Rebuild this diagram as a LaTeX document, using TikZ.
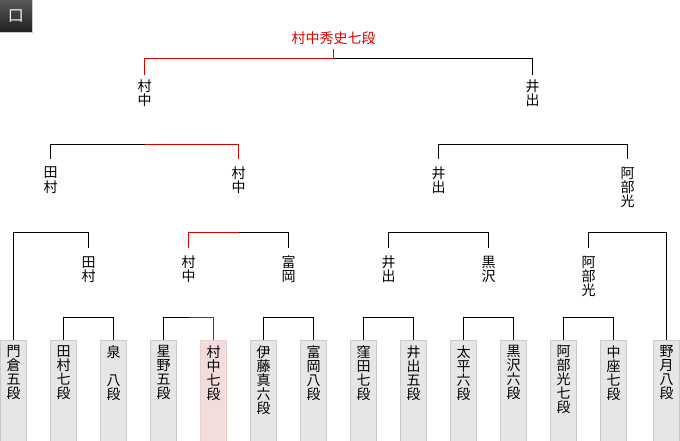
\documentclass[tikz,border=0pt]{standalone}
\usepackage{fontspec}
\setmainfont{Noto Sans CJK JP}
\usetikzlibrary{calc}
\definecolor{winred}{HTML}{DD0000}
\definecolor{boxgray}{HTML}{E6E6E6}
\definecolor{boxline}{HTML}{CACACA}
\definecolor{pinkfill}{HTML}{F3DCDC}
\definecolor{pinkline}{HTML}{EDCFCF}
\definecolor{icontop}{HTML}{5A5A5A}
\definecolor{iconbot}{HTML}{1E1E1E}
\begin{document}
\begin{tikzpicture}[x=1pt,y=-1pt,
  conn/.style={line width=1pt, black},
  win/.style={line width=1pt, winred},
  pbox/.style={draw=boxline, fill=boxgray, line width=1pt, minimum width=26pt, minimum height=102pt, anchor=north, inner sep=0pt},
  wbox/.style={pbox, draw=pinkline, fill=pinkfill},
  vtext/.style={anchor=north, inner sep=0pt, align=center, font=\fontsize{14}{14}\selectfont},
  lbl/.style={vtext},
  champ/.style={anchor=north, inner sep=0pt, text=winred, font=\fontsize{14}{14}\selectfont},
  icon/.style={minimum size=33pt, inner sep=0pt, top color=icontop, bottom color=iconbot, draw=gray!40, line width=1pt, text=gray!10, font=\fontsize{16}{16}\selectfont},
]
\useasboundingbox (0,0) rectangle (680,440);
% icon
\node[icon] (ic) at (16,16) {口};
\begin{scope}[xshift=0.5pt]
% level rows
\coordinate (r0) at (0,58.5);
\coordinate (r1) at (0,144.5);
\coordinate (r2) at (0,232.5);
\coordinate (r3) at (0,317.5);
% boxes
\node[pbox] (b1) at (13,339.5) {};
\node[pbox] (b2) at (63,339.5) {};
\node[pbox] (b3) at (113,339.5) {};
\node[pbox] (b4) at (163,339.5) {};
\node[wbox] (b5) at (213,339.5) {};
\node[pbox] (b6) at (263,339.5) {};
\node[pbox] (b7) at (313,339.5) {};
\node[pbox] (b8) at (363,339.5) {};
\node[pbox] (b9) at (413,339.5) {};
\node[pbox] (b10) at (463,339.5) {};
\node[pbox] (b11) at (513,339.5) {};
\node[pbox] (b12) at (563,339.5) {};
\node[pbox] (b13) at (613,339.5) {};
\node[pbox] (b14) at (666,339.5) {};
% box texts
\node[vtext] (t1) at ($(b1.north)+(0,6)$) {門\\倉\\五\\段};
\node[vtext] (t2) at ($(b2.north)+(0,6)$) {田\\村\\七\\段};
\node[vtext] (t3) at ($(b3.north)+(0,6)$) {泉\\　\\八\\段};
\node[vtext] (t4) at ($(b4.north)+(0,6)$) {星\\野\\五\\段};
\node[vtext] (t5) at ($(b5.north)+(0,6)$) {村\\中\\七\\段};
\node[vtext] (t6) at ($(b6.north)+(0,6)$) {伊\\藤\\真\\六\\段};
\node[vtext] (t7) at ($(b7.north)+(0,6)$) {富\\岡\\八\\段};
\node[vtext] (t8) at ($(b8.north)+(0,6)$) {窪\\田\\七\\段};
\node[vtext] (t9) at ($(b9.north)+(0,6)$) {井\\出\\五\\段};
\node[vtext] (t10) at ($(b10.north)+(0,6)$) {太\\平\\六\\段};
\node[vtext] (t11) at ($(b11.north)+(0,6)$) {黒\\沢\\六\\段};
\node[vtext] (t12) at ($(b12.north)+(0,6)$) {阿\\部\\光\\七\\段};
\node[vtext] (t13) at ($(b13.north)+(0,6)$) {中\\座\\七\\段};
\node[vtext] (t14) at ($(b14.north)+(0,6)$) {野\\月\\八\\段};
% round labels
\node[lbl] (l3a) at (88,256) {田\\村};
\node[lbl] (l3b) at (188,256) {村\\中};
\node[lbl] (l3c) at (288,256) {富\\岡};
\node[lbl] (l3d) at (388,256) {井\\出};
\node[lbl] (l3e) at (488,256) {黒\\沢};
\node[lbl] (l3f) at (588,256) {阿\\部\\光};
\node[lbl] (l2a) at (50,167) {田\\村};
\node[lbl] (l2b) at (238,167) {村\\中};
\node[lbl] (l2c) at (438,167) {井\\出};
\node[lbl] (l2d) at (627,167) {阿\\部\\光};
\node[lbl] (l1a) at (144,80) {村\\中};
\node[lbl] (l1b) at (532,80) {井\\出};
\node[champ] (ch) at (333,32) {村中秀史七段};
\coordinate (cs) at (333,49);
% first round
\draw[conn] (b2.north) |- (l3a.north |- r3) -| (b3.north);
\draw[conn] (b4.north) |- (l3b.north |- r3) -| (b5.north);
\draw[win] (l3b.north |- r3) -| (b5.north);
\draw[conn] (b6.north) |- (l3c.north |- r3) -| (b7.north);
\draw[conn] (b8.north) |- (l3d.north |- r3) -| (b9.north);
\draw[conn] (b10.north) |- (l3e.north |- r3) -| (b11.north);
\draw[conn] (b12.north) |- (l3f.north |- r3) -| (b13.north);
% second round
\draw[conn, shorten >=8pt] (b1.north) |- (l2a.north |- r2) -| (l3a.north);
\draw[conn, shorten <=8pt, shorten >=8pt] (l3b.north) |- (l2b.north |- r2) -| (l3c.north);
\draw[win, shorten >=8pt] (l2b.north |- r2) -| (l3b.north);
\draw[conn, shorten <=8pt, shorten >=8pt] (l3d.north) |- (l2c.north |- r2) -| (l3e.north);
\draw[conn, shorten <=8pt] (l3f.north) |- (l2d.north |- r2) -| (b14.north);
% semi-finals
\draw[conn, shorten <=8pt, shorten >=8pt] (l2a.north) |- (l1a.north |- r1) -| (l2b.north);
\draw[win, shorten >=8pt] (l1a.north |- r1) -| (l2b.north);
\draw[conn, shorten <=8pt, shorten >=8pt] (l2c.north) |- (l1b.north |- r1) -| (l2d.north);
% final
\draw[conn, shorten >=5pt] (cs |- r0) -| (l1b.north);
\draw[win, shorten <=5pt] (l1a.north) |- (cs |- r0) -- (cs);
\end{scope}
\end{tikzpicture}
\end{document}
